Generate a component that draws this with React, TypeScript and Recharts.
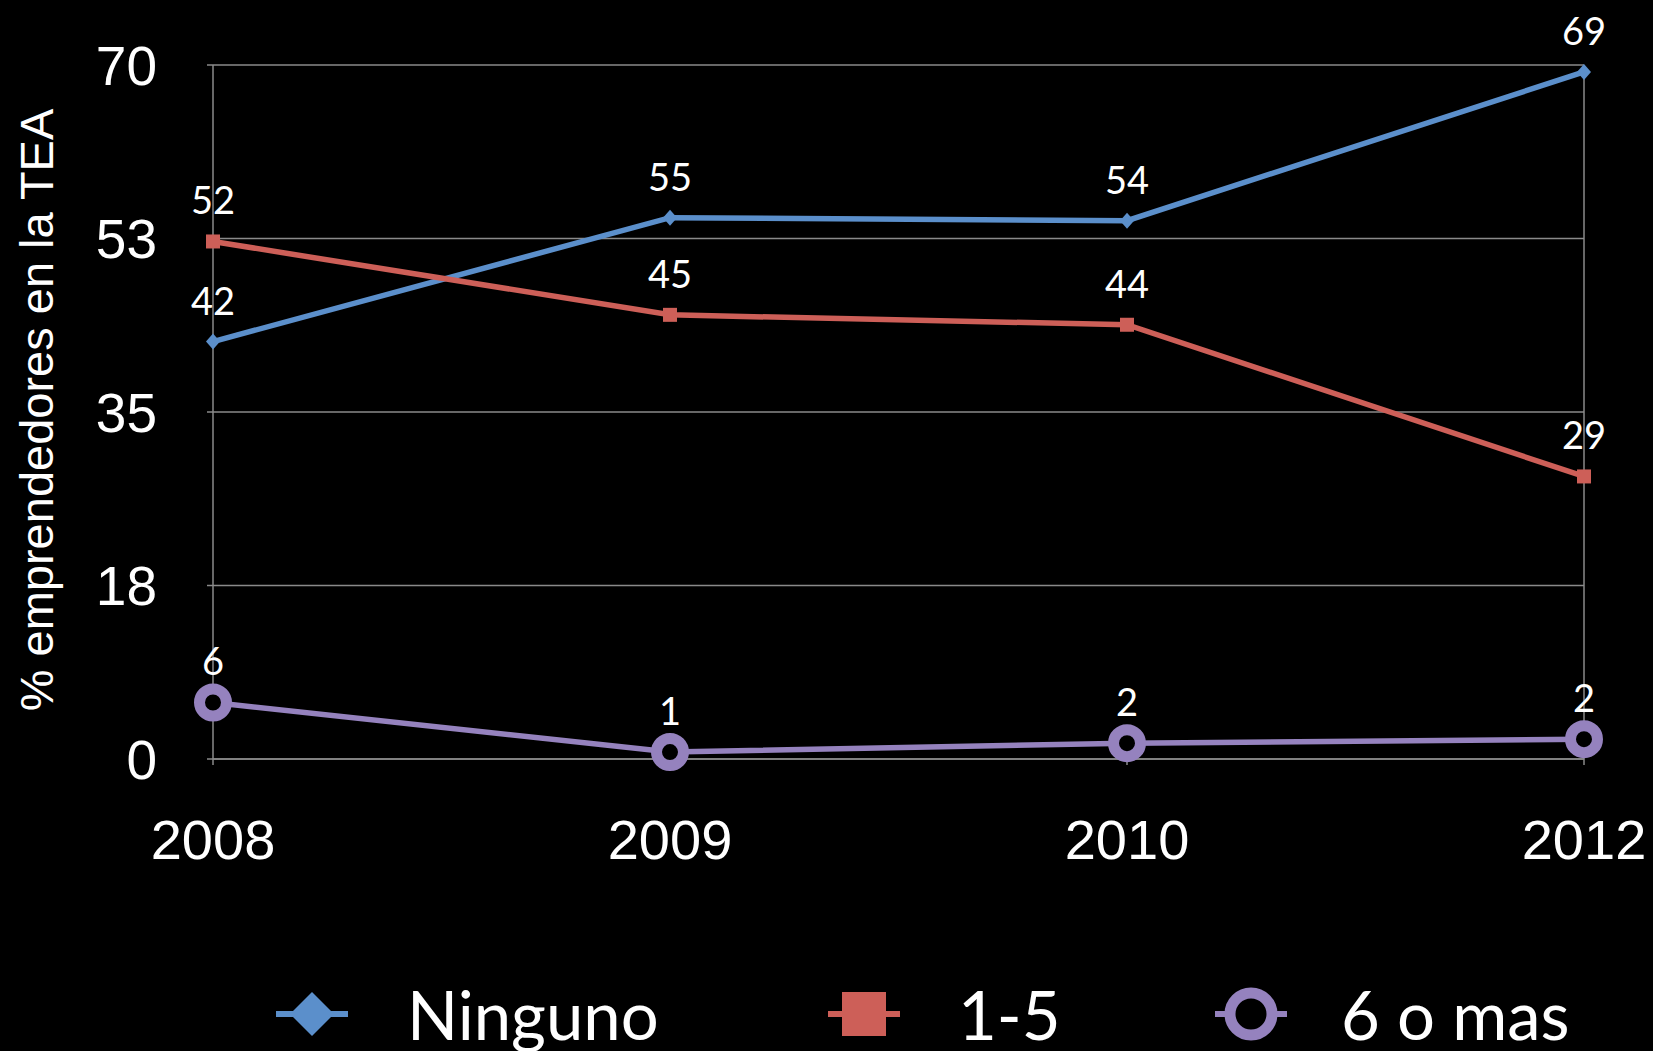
import { LineChart, Line, XAxis, YAxis, CartesianGrid, ReferenceLine, LabelList, Legend } from 'recharts'

const years = ['2008', '2009', '2010', '2012']
const ninguno = [42.1, 54.6, 54.3, 69.3]
const unoACinco = [52.2, 44.8, 43.8, 28.5]
const seisOMas = [5.7, 0.7, 1.6, 2.0]
const yTicks = [0, 17.5, 35, 52.5, 70]

const seriesNames = ['Ninguno', '1-5', '6 o mas']

const data = years.map((year, i) => ({
  year,
  ninguno: ninguno[i],
  unoACinco: unoACinco[i],
  seisOMas: seisOMas[i],
}))

const BLUE = '#5B8FCB'
const RED = '#CD5F58'
const PURPLE = '#9582BE'
const GRID = '#8a8a8a'
const tickFont = '"Liberation Sans", Arial, sans-serif'
const labelFont = 'Lato, "Open Sans", sans-serif'

function DiamondDot(props: any) {
  const { cx, cy, index } = props
  if (cx == null || cy == null) return null
  return <path key={`d-${index}`} d={`M${cx},${cy - 8} L${cx + 7},${cy} L${cx},${cy + 8} L${cx - 7},${cy} Z`} fill={BLUE} />
}

function SquareDot(props: any) {
  const { cx, cy, index } = props
  if (cx == null || cy == null) return null
  return <rect key={`s-${index}`} x={cx - 7} y={cy - 7} width={14} height={14} fill={RED} />
}

function RingDot(props: any) {
  const { cx, cy, index } = props
  if (cx == null || cy == null) return null
  return <circle key={`r-${index}`} cx={cx} cy={cy} r={13.5} fill="#000" stroke={PURPLE} strokeWidth={11} />
}

function renderValueLabel(props: any) {
  const { x, y, value, index } = props
  return (
    <text key={`l-${index}`} x={x} y={y - 27} textAnchor="middle" fill="#fff" fontSize={38} fontFamily={labelFont}>
      {Math.round(Number(value))}
    </text>
  )
}

function renderYLabel(props: any) {
  const vb = props.viewBox || { x: 0, y: 65, width: 213, height: 694 }
  const x = vb.x + 53
  const y = vb.y + vb.height / 2 - 2
  return (
    <text x={x} y={y} transform={`rotate(-90, ${x}, ${y})`} textAnchor="middle" fill="#fff" fontSize={47} fontFamily={tickFont}>
      % emprendedores en la TEA
    </text>
  )
}

function renderLegend() {
  // icon centre, text start
  const items = [
    { name: seriesNames[0], color: BLUE, cx: 312, tx: 407, kind: 'diamond' },
    { name: seriesNames[1], color: RED, cx: 864, tx: 958, kind: 'square' },
    { name: seriesNames[2], color: PURPLE, cx: 1251, tx: 1341, kind: 'ring' },
  ]
  const cy = 54
  return (
    <svg width={1653} height={91} style={{ display: 'block' }}>
      {items.map((it) => (
        <g key={it.name}>
          <line x1={it.cx - 36} x2={it.cx + 36} y1={cy} y2={cy} stroke={it.color} strokeWidth={6} />
          {it.kind === 'diamond' && (
            <path d={`M${it.cx},${cy - 22} L${it.cx + 22},${cy} L${it.cx},${cy + 22} L${it.cx - 22},${cy} Z`} fill={it.color} />
          )}
          {it.kind === 'square' && <rect x={it.cx - 22} y={cy - 22} width={44} height={44} fill={it.color} />}
          {it.kind === 'ring' && <circle cx={it.cx} cy={cy} r={21} fill="#000" stroke={it.color} strokeWidth={11} />}
          <text x={it.tx} y={80} fill="#fff" fontSize={67} fontFamily={labelFont}>
            {it.name}
          </text>
        </g>
      ))}
    </svg>
  )
}

export default function App() {
  return (
    <div style={{ position: 'absolute', left: 0, top: 0, width: 1653, height: 1051, background: '#000', overflow: 'hidden' }}>
      <LineChart width={1653} height={1051} data={data} margin={{ top: 65, right: 69, left: 0, bottom: 0 }}>
        <CartesianGrid vertical={false} stroke={GRID} strokeWidth={1.5} />
        <XAxis
          dataKey="year"
          height={292}
          interval={0}
          stroke={GRID}
          strokeWidth={1.5}
          tickSize={6}
          tickMargin={54}
          tick={{ fill: '#fff', fontSize: 56, fontFamily: tickFont }}
        />
        <YAxis
          width={213}
          domain={[0, 70]}
          ticks={yTicks}
          interval={0}
          stroke={GRID}
          strokeWidth={1.5}
          tickSize={6}
          tickMargin={50}
          tickFormatter={(v) => String(Math.round(v))}
          tick={{ fill: '#fff', fontSize: 55, fontFamily: tickFont }}
          label={{ content: renderYLabel }}
        />
        <ReferenceLine x="2012" stroke={GRID} strokeWidth={1.5} />
        <Legend layout="horizontal" verticalAlign="middle" align="center" content={renderLegend} wrapperStyle={{ top: 960, left: 0, bottom: 'auto', width: 1653 }} />
        <Line dataKey="ninguno" name={seriesNames[0]} stroke={BLUE} strokeWidth={5.5} dot={DiamondDot} isAnimationActive={false}>
          <LabelList dataKey="ninguno" content={renderValueLabel} />
        </Line>
        <Line dataKey="unoACinco" name={seriesNames[1]} stroke={RED} strokeWidth={5.5} dot={SquareDot} isAnimationActive={false}>
          <LabelList dataKey="unoACinco" content={renderValueLabel} />
        </Line>
        <Line dataKey="seisOMas" name={seriesNames[2]} stroke={PURPLE} strokeWidth={5.5} dot={RingDot} isAnimationActive={false}>
          <LabelList dataKey="seisOMas" content={renderValueLabel} />
        </Line>
      </LineChart>
    </div>
  )
}
